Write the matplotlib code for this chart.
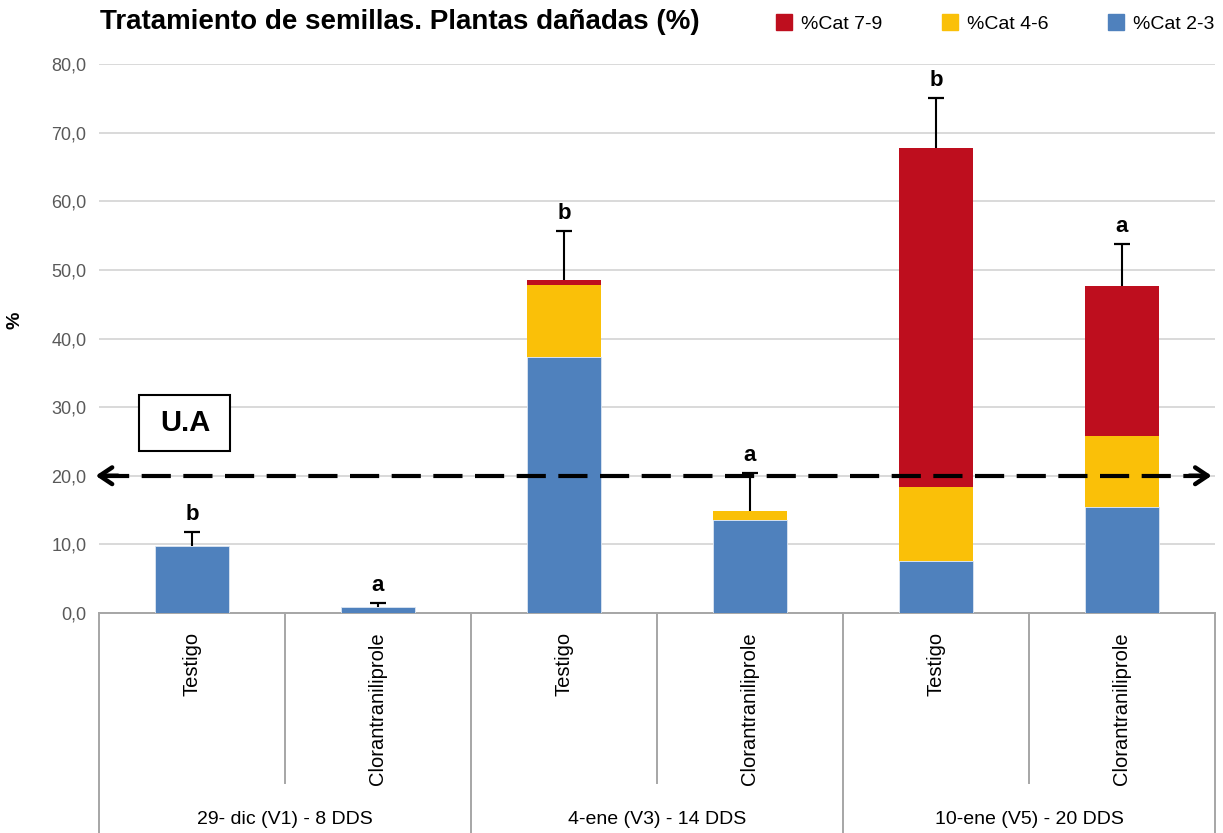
import matplotlib
matplotlib.use("Agg")
import matplotlib.pyplot as plt
import numpy as np
from matplotlib.lines import Line2D
from matplotlib.patches import Rectangle
import matplotlib.transforms as mtransforms

plt.rcParams['font.family'] = ['Liberation Sans', 'DejaVu Sans']

treatments = ["Testigo", "Clorantraniliprole", "Testigo", "Clorantraniliprole", "Testigo", "Clorantraniliprole"]
groups = ["29- dic (V1) - 8 DDS", "4-ene (V3) - 14 DDS", "10-ene (V5) - 20 DDS"]
cat23 = [9.8, 0.9, 37.3, 13.6, 7.6, 15.5]
cat46 = [0.0, 0.0, 10.5, 1.2, 10.7, 10.3]
cat79 = [0.0, 0.0, 0.7, 0.0, 49.5, 21.8]
err = [2.0, 0.6, 7.2, 5.6, 7.2, 6.2]
letters = ["b", "a", "b", "a", "b", "a"]
threshold = 20.0
yticks = [0, 10, 20, 30, 40, 50, 60, 70, 80]

c_red = "#BE0E1E"
c_yel = "#FAC008"
c_blu = "#4F81BD"

W, H = 1223, 833
fig = plt.figure(figsize=(W/100, H/100), dpi=100)
ax = fig.add_axes([99/W, (H-613)/H, (1215-99)/W, (613-64)/H])

x = np.arange(len(treatments))
c23 = np.array(cat23); c46 = np.array(cat46); c79 = np.array(cat79)
bw = 0.4
ax.bar(x, c23, bw, color=c_blu, edgecolor="#dce6f2", linewidth=0.6, zorder=3)
ax.bar(x, c46, bw, bottom=c23, color=c_yel, edgecolor="none", zorder=3)
ax.bar(x, c79, bw, bottom=c23 + c46, color=c_red, edgecolor="none", zorder=3)
tot = c23 + c46 + c79
e = np.array(err)
ax.vlines(x, tot, tot + e, color="black", lw=1.5, zorder=4)
ax.plot(x, tot + e, linestyle="none", marker="_", markersize=11, mew=1.6, color="black", zorder=4)
for xi, t, ee, l in zip(x, tot, e, letters):
    ax.annotate(l, (xi, t + ee), xytext=(0, 5), textcoords="offset points",
                ha="center", va="bottom", fontsize=16, fontweight="bold")

ax.set_xlim(-0.5, 5.5)
ax.set_ylim(0, 80)
ax.set_yticks(yticks)
ax.set_yticklabels([f"{v:.1f}".replace(".", ",") for v in yticks], color="#595959", fontsize=13)
ax.tick_params(axis="y", length=0, pad=9)
ax.tick_params(axis="x", length=0)
ax.set_xticks([])
ax.grid(axis="y", color="#d9d9d9", linewidth=1.4, zorder=0)
ax.set_axisbelow(True)
for s in ["top", "right", "left"]:
    ax.spines[s].set_visible(False)
ax.spines["bottom"].set_color("#a6a6a6")
ax.spines["bottom"].set_linewidth(1.4)

# threshold dashed double arrow
trans_thr = mtransforms.blended_transform_factory(ax.transAxes, ax.transData)
xl, xr = -0.003, 0.997
ax.plot([xl + 0.004, xr - 0.004], [threshold, threshold], transform=trans_thr,
        color="black", lw=3.0, linestyle=(0, (7, 3)), clip_on=False, zorder=6)
for xa, xb in [(xl + 0.02, xl), (xr - 0.02, xr)]:
    ax.annotate("", xy=(xb, threshold), xytext=(xa, threshold),
                xycoords=trans_thr, textcoords=trans_thr,
                arrowprops=dict(arrowstyle="->,head_length=0.9,head_width=0.6", lw=3.2,
                                color="black", shrinkA=0, shrinkB=0),
                annotation_clip=False, zorder=6)

fig.add_artist(Rectangle((139/W, 1 - 451/H), 91/W, 56/H, transform=fig.transFigure,
                         facecolor="white", edgecolor="black", linewidth=1.5, zorder=6))
fig.text(185/W, 1 - 423/H, "U.A", ha="center", va="center", fontsize=21, fontweight="bold", zorder=7)

# category axis below
tb = mtransforms.blended_transform_factory(ax.transData, ax.transAxes)
ybot = (613 - 833) / 549
ymid = (613 - 783) / 549
for xv in [-0.5, 1.5, 3.5, 5.5]:
    ax.plot([xv, xv], [0, ybot], transform=tb, color="#a6a6a6", lw=1.4, clip_on=False)
for xv in [0.5, 2.5, 4.5]:
    ax.plot([xv, xv], [0, ymid], transform=tb, color="#a6a6a6", lw=1.4, clip_on=False)
ylab = (613 - 632) / 549
for xi, t in zip(x, treatments):
    ax.text(xi, ylab, t, transform=tb, rotation=90, ha="center", va="top", fontsize=14.5)
ygrp = (613 - 819) / 549
for gi, g in enumerate(groups):
    ax.text(2 * gi + 0.5, ygrp, g, transform=tb, ha="center", va="center", fontsize=14)

fig.text(15/W, 1 - 320/H, "%", rotation=90, ha="center", va="center", fontsize=14, fontweight="bold")
fig.text(100/W, 1 - 22/H, "Tratamiento de semillas. Plantas dañadas (%)", ha="left", va="center",
         fontsize=20, fontweight="bold")

handles = [Line2D([], [], marker="s", linestyle="none", markersize=12, color=c)
           for c in [c_red, c_yel, c_blu]]
fig.legend(handles, ["%Cat 7-9", "%Cat 4-6", "%Cat 2-3"], loc="center right",
           bbox_to_anchor=(1222/W, 1 - 24/H), ncol=3, frameon=False, fontsize=14,
           handletextpad=0.35, columnspacing=3.0, handlelength=1.0, borderaxespad=0)

fig.savefig("out.png", dpi=100)
